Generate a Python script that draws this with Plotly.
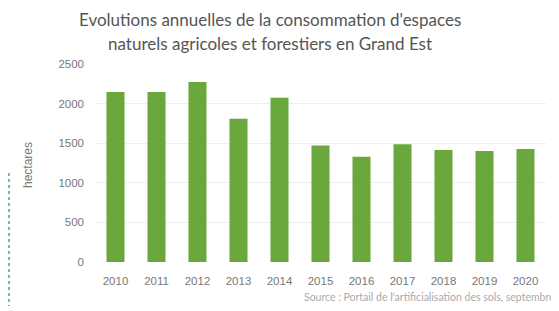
import plotly.graph_objects as go

years = ["2010", "2011", "2012", "2013", "2014", "2015", "2016", "2017", "2018", "2019", "2020"]
hectares = [2145, 2145, 2273, 1810, 2075, 1470, 1328, 1486, 1414, 1402, 1427]
y_ticks = [0, 500, 1000, 1500, 2000, 2500]

# page body has an 8px margin, so the figure is shrunk and coordinates shifted
OFF = 8
W, H = 559 - OFF, 311 - OFF
ml, mr, mt, mb = 95 - OFF, 13, 64 - OFF, 49
pw, ph = W - ml - mr, H - mt - mb


def px_x(x):
    return (x - OFF - ml) / pw


def px_y(y):
    return (H - mb - (y - OFF)) / ph


fig = go.Figure()
fig.add_trace(go.Bar(x=years, y=hectares, marker=dict(color="#6aa83e", line=dict(width=0)),
                     hoverinfo="x+y"))

# decorative dotted vertical line on the left edge
fig.add_shape(type="line", xref="paper", yref="paper",
              x0=px_x(9), x1=px_x(9), y0=px_y(173), y1=px_y(306),
              line=dict(color="#3aa9a0", width=1.5, dash="dot"))

title_font = dict(family="Lato", size=17, color="#555555")
tick_font = dict(family="Liberation Sans", size=11.5, color="#777777")
fig.update_layout(
    width=W, height=H,
    margin=dict(l=ml, r=mr, t=mt, b=mb, autoexpand=False),
    paper_bgcolor="white", plot_bgcolor="white",
    bargap=0.56,
    showlegend=False,
    xaxis=dict(showgrid=False, showline=False, ticks="", zeroline=False,
               tickfont=tick_font, ticklabelstandoff=10),
    yaxis=dict(range=[0, 2500], tickvals=y_ticks, showgrid=True, gridcolor="#eeeeee",
               gridwidth=1, zeroline=False, showline=False, ticks="",
               tickfont=tick_font, ticklabelstandoff=10),
    annotations=[
        dict(text="Evolutions annuelles de la consommation d'espaces",
             xref="paper", yref="paper", x=px_x(270), y=px_y(20),
             xanchor="center", yanchor="middle", showarrow=False, font=title_font),
        dict(text="naturels agricoles et forestiers en Grand Est",
             xref="paper", yref="paper", x=px_x(270), y=px_y(43),
             xanchor="center", yanchor="middle", showarrow=False, font=title_font),
        dict(text="hectares", textangle=-90,
             xref="paper", yref="paper", x=px_x(28), y=px_y(165),
             xanchor="center", yanchor="middle", showarrow=False,
             font=dict(family="Liberation Sans", size=12, color="#777777")),
        dict(text="Source : Portail de l'artificialisation des sols, septembre 2021",
             xref="paper", yref="paper", x=px_x(302), y=px_y(297),
             xanchor="left", yanchor="middle", showarrow=False,
             font=dict(family="Lato", size=10.5, color="#aaaaaa")),
    ],
)

fig.write_html("out.html")
